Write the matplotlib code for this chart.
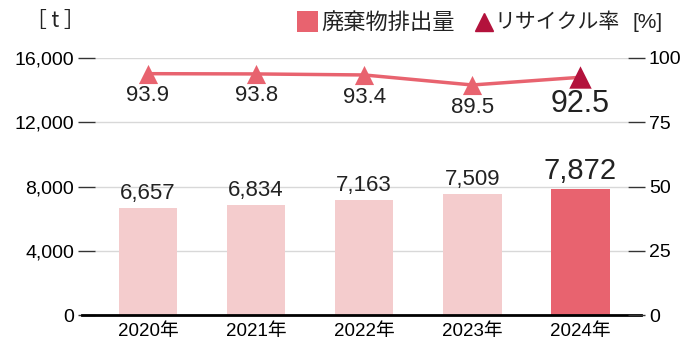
import matplotlib
matplotlib.use("Agg")
import matplotlib.pyplot as plt
from matplotlib.lines import Line2D
from matplotlib.patches import Rectangle
from matplotlib import font_manager as fm

names = {f.name for f in fm.fontManager.ttflist}
num_font = 'Liberation Sans Narrow' if 'Liberation Sans Narrow' in names else 'Liberation Sans'
plt.rcParams['font.family'] = [num_font, 'Noto Sans CJK JP', 'DejaVu Sans']

years = ['2020年', '2021年', '2022年', '2023年', '2024年']
waste = [6657, 6834, 7163, 7509, 7872]
recycle = [93.9, 93.8, 93.4, 89.5, 92.5]
left_ticks = [0, 4000, 8000, 12000, 16000]
right_ticks = [0, 25, 50, 75, 100]

light = '#f4cccd'
pink = '#e8636f'
dark = '#b3123c'

fig = plt.figure(figsize=(6.9, 3.58), dpi=100)
ax = fig.add_axes([95/690, 1-315/358, (628-95)/690, (315-58)/358])
ax2 = ax.twinx()

x = list(range(len(years)))
colors = [light]*(len(years)-1) + [pink]
ax.bar(x, waste, width=0.54, color=colors, zorder=2)
ax.set_ylim(0, 16000)
ax.set_xlim(-0.49, 4.44)
ax.set_yticks(left_ticks)
ax.set_yticklabels([f'{v:,}' for v in left_ticks], fontsize=14)
ax.set_xticks(x)
ax.set_xticklabels(years, fontsize=13.5)
ax.tick_params(axis='x', length=0, pad=6)
ax.tick_params(axis='y', length=12, width=1, color='#333333', pad=3)
for s in ax.spines.values():
    s.set_visible(False)
for s in ax2.spines.values():
    s.set_visible(False)
ax.grid(axis='y', color='#d8d8d8', linewidth=1, zorder=0)
ax.set_axisbelow(True)
ax.add_line(Line2D([-0.025, 1.025], [0, 0], transform=ax.transAxes, color='black',
                   linewidth=2, clip_on=False, zorder=5))

for i, v in enumerate(waste):
    last = i == len(waste)-1
    ax.text(i, v + 250, f'{v:,}', ha='center', va='bottom',
            fontsize=21 if last else 16, color='#222222', zorder=6)

ax2.set_ylim(0, 100)
ax2.set_yticks(right_ticks)
ax2.set_yticklabels([str(v) for v in right_ticks], fontsize=14)
ax2.tick_params(axis='y', length=12, width=1, color='#333333', pad=3)
ax2.plot(x, recycle, color=pink, linewidth=2.5, zorder=3)
ax2.scatter(x[:-1], recycle[:-1], marker='^', s=190, color=pink, zorder=4, linewidths=0)
ax2.scatter(x[-1:], recycle[-1:], marker='^', s=260, color=dark, zorder=4, linewidths=0)
for i, v in enumerate(recycle):
    last = i == len(recycle)-1
    ax2.text(i, v - 4.5, f'{v}', ha='center', va='top',
             fontsize=22 if last else 16, color='#222222')

# legend / unit labels
fig.patches.append(Rectangle((297/690, 1-32/358), 21/690, 21/358, transform=fig.transFigure,
                             facecolor=pink, edgecolor='none'))
fig.text(321/690, 1-22/358, '廃棄物排出量', fontsize=16, va='center', ha='left',
         family=['Noto Sans CJK JP'], color='#222222')
fig.lines.append(Line2D([484/690], [1-22/358], transform=fig.transFigure, marker='^',
                        markersize=13, color=dark, linestyle='none'))
fig.text(494/690, 1-22/358, 'リサイクル率', fontsize=15, va='center', ha='left',
         family=['Noto Sans CJK JP'], color='#222222')
fig.text(648/690, 1-22/358, '[%]', fontsize=15, va='center', ha='center', color='#222222')
fig.text(55/690, 1-21/358, '［ t ］', fontsize=15, va='center', ha='center',
         family=['Noto Sans CJK JP'], color='#222222')

fig.savefig('out.png', dpi=100)
